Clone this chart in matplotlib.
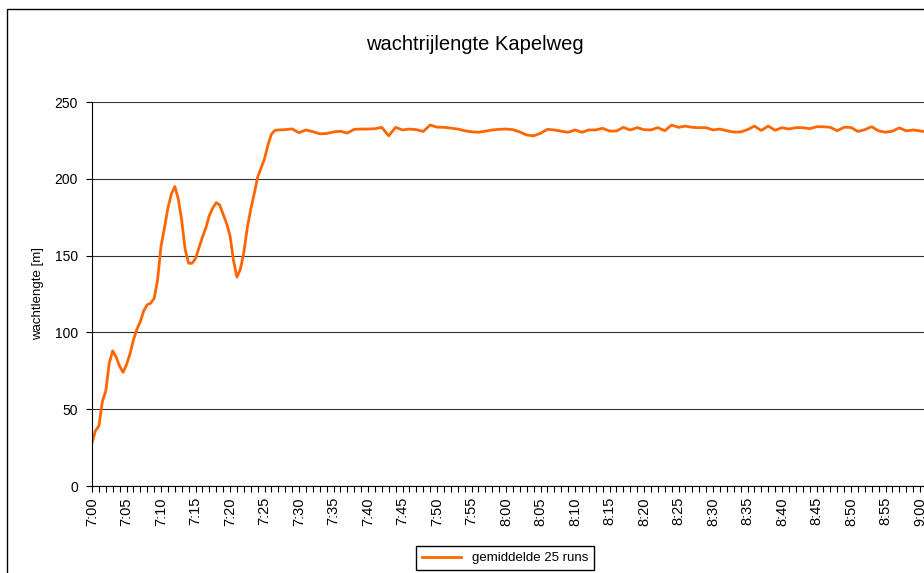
import numpy as np
import matplotlib
matplotlib.use("Agg")
import matplotlib.pyplot as plt
from matplotlib.patches import Rectangle

plt.rcParams["font.family"] = ["Liberation Sans", "DejaVu Sans"]

# ========= data =========
# rise part: every 30 s from 7:00 to 7:27 (minutes after 7:00)
rise_minutes = np.arange(0, 27.5, 0.5)
rise_values = [
    28, 36, 39, 55, 62, 80, 88, 84, 78, 74,
    79, 86, 95, 102, 107, 114, 118, 119, 122, 134,
    156, 168, 181, 190, 195, 187, 173, 154, 145, 145,
    148, 155, 162, 168, 176, 181, 184.5, 183, 177, 171,
    163, 147, 136, 141, 152, 168, 180, 190, 201, 207,
    213, 222, 229, 231.5, 231.8,
]

# plateau: every minute from 7:28 on
plateau_minutes = np.arange(28, 122, 1)
plateau_values = [
    232, 232.5, 230, 231.8, 230.7, 229.3, 229.5, 230.5, 231, 229.8,
    232.2, 232.4, 232.4, 232.6, 233.5, 228, 233.5, 231.8, 232.4, 232,
    230.8, 235, 233.6, 233.5, 233, 232.4, 231.3, 230.6, 230.3, 231,
    231.8, 232.2, 232.4, 232, 230.5, 228.5, 228, 229.6, 232.2, 231.8,
    231, 230.3, 231.8, 230.3, 231.8, 231.8, 232.9, 231.1, 231.1, 233.5,
    231.8, 233.3, 232, 231.8, 233.3, 231.3, 235, 233.5, 234.3, 233.5,
    233.3, 233.3, 231.8, 232.4, 231.3, 230.4, 230.5, 232, 234.3, 231.5,
    234.3, 231.6, 233.3, 232.4, 233.3, 233.3, 232.6, 233.9, 233.9, 233.5,
    231.3, 233.6, 233.4, 230.8, 232, 233.9, 231.2, 230.3, 231, 233.2,
    231.2, 231.8, 231.2, 230.5,
]

minutes = np.concatenate([rise_minutes, plateau_minutes])
values = np.concatenate([rise_values, plateau_values])

tick_minutes = np.arange(0, 121, 5)
tick_labels = [f"{7 + m // 60}:{m % 60:02d}" for m in tick_minutes]

# ========= figure =========
fig = plt.figure(figsize=(9.24, 5.73), dpi=100)

# outer chart border (runs off the right and bottom edge)
fig.patches.append(Rectangle((7.5 / 924, -0.05), 1.2, 1 - 9.5 / 573 + 0.05,
                             transform=fig.transFigure, fill=False,
                             edgecolor="black", linewidth=1.0))

ax = fig.add_axes([92 / 924, 87 / 573, 121 * 6.9 / 924, 384 / 573])
ax.plot(minutes, values, color="#FF6600", linewidth=2.0,
        label="gemiddelde 25 runs")

ax.set_xlim(0, 121)
ax.set_ylim(0, 250)
ax.set_yticks(np.arange(0, 251, 50))
ax.set_xticks(tick_minutes)
ax.set_xticklabels(tick_labels, rotation=90, fontsize=10.5)
ax.set_xticks(np.arange(0, 122, 1), minor=True)
ax.tick_params(axis="y", labelsize=10, length=4, width=0.8, pad=6)
ax.tick_params(axis="x", which="both", length=4, width=0.8, direction="out",
               pad=4)
ax.grid(axis="y", color="#333333", linewidth=0.8)
ax.set_axisbelow(True)

for side in ["top", "right"]:
    ax.spines[side].set_visible(False)
ax.spines["left"].set_linewidth(0.8)
ax.spines["bottom"].set_linewidth(0.8)

ax.set_ylabel("wachtlengte [m]", fontsize=9.5, labelpad=8)

fig.text(475 / 924, 1 - 44 / 573, "wachtrijlengte Kapelweg",
         ha="center", va="center", fontsize=14.5)

fig.legend(loc="center", bbox_to_anchor=(505 / 924, 1 - 558 / 573),
           fontsize=9.5, frameon=True, fancybox=False, edgecolor="black",
           framealpha=1, handlelength=3.0, borderpad=0.45)

fig.savefig("out.png", dpi=100)
